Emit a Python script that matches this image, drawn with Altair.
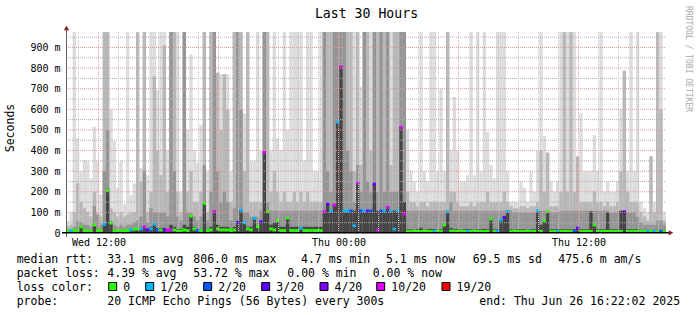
import altair as alt
import pandas as pd

# ---------------- data ----------------
# smoke layer tops per 10-minute step (ms), light -> dark
H1 = [60,100,975,460,300,355,350,265,515,350,185,975,975,600,445,220,350,140,975,185,240,975,315,975,280,975,975,693,975,975,
      400,975,975,975,200,975,500,867,400,340,525,975,300,975,975,777,770,770,770,300,975,975,975,580,975,350,350,975,400,975,
      975,400,975,460,400,975,500,975,975,975,975,350,975,975,300,300,975,975,975,975,975,975,975,975,975,975,975,975,709,975,
      975,975,975,975,975,975,975,975,975,975,975,975,500,300,250,200,975,300,250,975,975,300,700,300,975,400,660,400,250,250,
      280,975,280,975,300,975,490,330,265,975,975,975,300,150,150,150,250,220,150,300,200,400,975,470,390,250,200,250,975,975,
      975,975,975,372,580,300,300,300,475,300,975,200,250,200,200,250,600,787,300,975,300,975,150,120,100,372,150,975,975,100]
H2 = [35,40,100,240,150,120,100,80,200,100,80,975,975,120,100,80,100,80,90,100,100,975,250,975,100,200,761,400,280,911,
      200,975,975,200,100,975,200,300,150,150,200,975,100,975,975,777,500,770,600,150,975,975,975,300,975,150,150,150,150,975,
      975,200,300,200,150,200,150,150,200,150,200,150,200,150,150,150,150,975,975,975,975,975,975,975,975,975,300,975,330,975,
      975,400,975,975,975,975,975,330,975,975,975,975,200,150,150,130,150,150,130,150,150,150,150,150,975,200,200,150,130,130,
      130,150,130,150,150,150,200,150,150,150,150,200,150,130,120,120,130,130,120,130,130,150,400,200,390,130,130,130,200,975,
      200,975,200,372,150,150,150,150,200,150,150,130,150,130,130,150,300,787,200,150,150,150,100,80,60,372,100,975,600,60]
H3 = [20,20,30,60,50,40,40,30,130,90,40,300,500,60,40,30,40,30,40,40,50,60,80,300,50,120,100,100,100,100,
      80,975,300,80,60,975,100,100,80,60,80,330,60,200,975,300,150,200,150,60,120,975,600,100,100,80,80,80,108,975,
      150,108,108,108,108,108,108,108,108,108,108,108,108,108,108,108,108,975,300,200,975,975,975,975,400,300,150,330,200,975,
      250,200,975,200,975,200,975,200,200,200,975,975,108,108,108,108,108,108,108,108,108,108,108,108,108,150,108,108,108,108,
      108,108,108,108,108,108,108,108,108,108,108,108,108,108,100,100,100,100,100,100,100,108,108,108,108,100,100,100,108,108,
      108,108,108,108,108,108,108,108,108,108,108,108,108,100,100,100,108,108,100,100,100,80,50,40,40,40,40,60,60,40]
H4 = [10,10,12,15,32,15,15,12,42,20,15,45,215,50,15,12,15,12,15,20,20,20,25,32,20,30,45,25,25,25,
      20,40,30,20,20,40,30,85,30,20,20,148,20,30,108,40,30,30,30,20,30,55,115,50,30,30,72,32,56,395,
      105,40,50,62,30,30,75,30,30,30,30,30,30,30,30,30,30,105,142,108,140,540,810,108,108,108,108,250,108,108,
      108,108,240,108,108,108,126,108,108,108,515,150,18,18,15,18,25,15,18,20,18,15,18,42,105,25,18,18,15,18,
      18,18,15,18,18,20,18,70,18,18,65,80,108,18,15,18,18,18,15,18,18,108,40,62,105,18,18,18,18,18,
      18,18,18,25,18,18,18,105,40,18,18,18,100,18,18,18,108,105,18,18,18,18,15,15,15,15,15,15,15,15]
MEDIAN = [12,10,12,10,30,10,10,8,39,12,10,42,207,48,10,8,10,10,12,15,18,20,20,30,15,20,43,15,15,15,
          12,15,15,10,10,15,12,82,20,12,12,144,12,15,103,20,15,15,15,12,15,52,111,50,20,15,71,31,55,391,
          103,20,15,60,12,12,73,12,12,12,23,12,12,12,12,12,12,103,140,107,136,538,806,107,107,107,35,244,107,107,
          107,107,237,15,107,107,124,107,19,107,512,92,8,8,8,8,8,8,8,8,8,8,8,39,103,10,8,8,8,8,
          8,8,8,8,8,8,8,68,8,8,63,76,105,8,8,8,8,8,8,8,8,107,8,60,103,8,8,8,8,8,
          8,8,8,23,8,8,8,8,39,8,8,8,8,8,8,8,8,103,8,8,8,8,8,8,8,8,8,8,8,8]
LOSS = [0,1,0,0,0,0,0,0,0,0,0,1,0,0,0,0,0,0,0,1,0,0,1,5,3,1,1,2,0,3,
        5,5,0,0,0,0,0,0,0,2,0,0,0,0,5,0,0,0,0,0,0,3,1,1,0,0,1,0,3,5,
        0,0,0,0,0,0,0,0,0,0,1,0,0,0,0,0,0,5,3,1,5,1,5,1,1,2,1,5,2,1,
        3,2,3,5,2,1,5,1,1,1,5,5,0,0,0,0,0,0,0,0,1,0,0,0,1,0,0,0,0,0,
        1,0,0,0,0,0,0,0,0,1,1,3,1,0,0,0,0,0,0,0,0,1,0,0,0,0,0,1,0,0,
        0,0,2,3,0,0,0,0,0,0,0,0,0,0,0,0,0,3,0,0,0,0,0,0,1,0,1,0,2,0]

LOSS_LABELS = ["0", "1/20", "2/20", "3/20", "4/20", "10/20", "19/20"]
LOSS_COLORS = ["#26ff00", "#00b8ff", "#0059ff", "#5e00ff", "#7e00ff", "#dd00ff", "#ff0000"]

Y_TICKS = [0, 100, 200, 300, 400, 500, 600, 700, 800, 900]
Y_MINOR = [50, 150, 250, 350, 450, 550, 650, 750, 850, 950]
X_TICKS = [12, 24, 36]
X_TICK_LABELS = ["Wed 12:00", "Thu 00:00", "Thu 12:00"]
X_MAJOR = [12, 18, 24, 30, 36]

TITLE = "Last 30 Hours"
Y_TITLE = "Seconds"
WATERMARK = "RRDTOOL / TOBI OETIKER"
LINE1 = ["median rtt:", "33.1 ms avg", "806.0 ms max", "4.7 ms min", "5.1 ms now", "69.5 ms sd", "475.6 m am/s"]
LINE2 = ["packet loss:", "4.39 % avg", "53.72 % max", "0.00 % min", "0.00 % now"]
LINE3 = "loss color:"
LINE4 = ["probe:", "20 ICMP Echo Pings (56 Bytes) every 300s", "end: Thu Jun 26 16:22:02 2025"]

# ---------------- table ----------------
START_H = 10.375          # Wed 10:22:30 in hours since Wed 00:00
STEP_H = 1 / 6            # 10-minute steps
n = len(H1)
df = pd.DataFrame({"h1": H1, "h2": H2, "h3": H3, "h4": H4, "med": MEDIAN})
df["t"] = [START_H + i * STEP_H for i in range(n)]
df["t2"] = df["t"] + STEP_H
df["loss"] = [LOSS_LABELS[k] for k in LOSS]
df["zero"] = 0

FONT = "DejaVu Sans Mono"
W, H = 600, 201

xs = alt.Scale(domain=[START_H, START_H + 30], nice=False, zero=False)
ys = alt.Scale(domain=[0, 975], nice=False, zero=True)

x_expr = " : ".join(
    [f"datum.value == {v} ? '{s}'" for v, s in zip(X_TICKS[:-1], X_TICK_LABELS[:-1])]
) + f" : '{X_TICK_LABELS[-1]}'"
AX = alt.Axis(values=X_TICKS, labelExpr=x_expr, domain=False, ticks=False, grid=False, labelFont=FONT,
              labelFontSize=10, labelColor="black", labelPadding=4, title=None, labelFlush=False)
AY = alt.Axis(values=Y_TICKS, labelExpr="datum.value == 0 ? '0' : datum.value + ' m'", domain=False,
              ticks=False, grid=False, labelFont=FONT, labelFontSize=10, labelColor="black",
              labelPadding=6, title=None, labelFlush=False)


def X(f):
    return alt.X(f, scale=xs, axis=AX)


def Y(f):
    return alt.Y(f, scale=ys, axis=AY)


def smoke(field, color):
    return alt.Chart(df).mark_rect(color=color, strokeWidth=0).encode(
        x=X("t:Q"), x2="t2:Q", y=Y(f"{field}:Q"), y2="zero:Q")


layers = [
    smoke("h1", "#dcdcdc"),
    smoke("h2", "#b8b8b8"),
    smoke("h3", "#959595"),
    smoke("h4", "#454545"),
]

median = alt.Chart(df).transform_calculate(
    mlo="max(datum.med - 7, 2)", mhi="datum.med + 7"
).mark_rect(strokeWidth=0).encode(
    x=X("t:Q"), x2="t2:Q", y=Y("mlo:Q"), y2="mhi:Q",
    color=alt.Color("loss:N", scale=alt.Scale(domain=LOSS_LABELS, range=LOSS_COLORS), legend=None),
)
layers.append(median)

# grid
h_minor = pd.DataFrame({"gy": Y_MINOR})
h_major = pd.DataFrame({"gy": Y_TICKS[1:]})
v_minor = pd.DataFrame({"gx": [h for h in range(11, 41) if h not in X_MAJOR]})
v_major = pd.DataFrame({"gx": X_MAJOR})

layers += [
    alt.Chart(h_minor).mark_rule(color="#b0b0b0", strokeDash=[1, 1], strokeWidth=1).encode(
        y=Y("gy:Q"), x=alt.value(0), x2=alt.value(W)),
    alt.Chart(v_minor).mark_rule(color="#c4c4c4", strokeDash=[1, 1], strokeWidth=1).encode(
        x=X("gx:Q"), y=alt.value(0), y2=alt.value(H)),
    alt.Chart(h_major).mark_rule(color="#e89494", strokeDash=[1, 1], strokeWidth=1).encode(
        y=Y("gy:Q"), x=alt.value(0), x2=alt.value(W)),
    alt.Chart(v_major).mark_rule(color="#eca0a0", strokeDash=[1, 1], strokeWidth=1).encode(
        x=X("gx:Q"), y=alt.value(0), y2=alt.value(H)),
]

one = pd.DataFrame({"a": [0]})

# axis lines and arrows
layers += [
    alt.Chart(one).mark_rule(color="#606060", strokeWidth=1).encode(
        x=alt.value(0.5), y=alt.value(-3), y2=alt.value(205)),
    alt.Chart(one).mark_rule(color="#000000", strokeWidth=1.5).encode(
        x=alt.value(-4), x2=alt.value(603), y=alt.value(200.8)),
    alt.Chart(one).mark_point(shape="triangle-up", filled=True, size=28, color="#8b1c1c", opacity=1).encode(
        x=alt.value(0.5), y=alt.value(-4)),
    alt.Chart(one).mark_point(shape="triangle-right", filled=True, size=28, color="#8b1c1c", opacity=1).encode(
        x=alt.value(605), y=alt.value(200.8)),
]


def txt(s, x, y, size=11.5, align="left", angle=0, color="black", baseline="alphabetic"):
    return alt.Chart(one).mark_text(text=s, align=align, baseline=baseline, font=FONT, fontSize=size,
                                    color=color, angle=angle).encode(x=alt.value(x), y=alt.value(y))


layers.append(txt(TITLE, 300.5, -13.7, size=13.2, align="center"))
layers.append(txt(Y_TITLE, -55.5, 96, size=11.5, align="center", angle=270, baseline="middle"))
layers.append(txt(WATERMARK, 622, 27, size=8, align="center", angle=90, color="#a8a8a8", baseline="middle"))

l1_x = [-49.3, 41.3, 127.3, 235, 320, 406.7, 492.3]
for s, x in zip(LINE1, l1_x):
    layers.append(txt(s, x, 230.7))
l2_x = [-49.3, 41.3, 127.3, 221.3, 306.7]
for s, x in zip(LINE2, l2_x):
    layers.append(txt(s, x, 244.7))
layers.append(txt(LINE3, -49.3, 258.7))
box_x = [42.7, 79.7, 137.7, 195.7, 254, 310.7, 376]
for lab, col, bx in zip(LOSS_LABELS, LOSS_COLORS, box_x):
    layers.append(alt.Chart(one).mark_rect(fill=col, stroke="black", strokeWidth=1).encode(
        x=alt.value(bx), x2=alt.value(bx + 8), y=alt.value(250.5), y2=alt.value(258.5)))
    layers.append(txt(lab, bx + 14.6, 258.7))
l4_x = [-49.3, 41.3, 413.3]
for s, x in zip(LINE4, l4_x):
    layers.append(txt(s, x, 272.7))

chart = alt.layer(*layers).properties(
    width=W, height=H,
    padding={"left": 66, "top": 32, "right": 31, "bottom": 82},
    autosize=alt.AutoSizeParams(type="none"),
    background="white",
).configure_view(stroke=None)

chart.save("out.html", embed_options={"renderer": "svg", "actions": False})
